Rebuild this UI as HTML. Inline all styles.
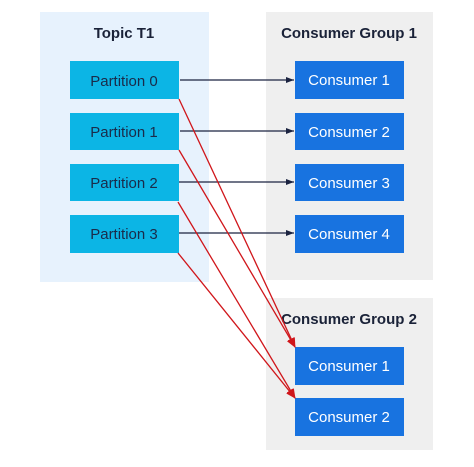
<!DOCTYPE html>
<html><head><style>
body{margin:0;width:474px;height:462px;background:#fff;font-family:"Liberation Sans",sans-serif;overflow:hidden}
</style></head><body>
<svg width="474" height="462" xmlns="http://www.w3.org/2000/svg" font-family="Liberation Sans, sans-serif">
<defs>
<marker id="ab" markerWidth="8" markerHeight="6" refX="8" refY="3" orient="auto" markerUnits="userSpaceOnUse"><path d="M0,0 L8,3 L0,6 Z" fill="#1b2340"/></marker>
<marker id="ar" markerWidth="10" markerHeight="8" refX="9" refY="4" orient="auto" markerUnits="userSpaceOnUse"><path d="M0,0 L10,4 L0,8 Z" fill="#d0161b"/></marker>
</defs>
<rect x="40" y="12" width="169" height="270" fill="#e7f2fd"/>
<rect x="266" y="12" width="167" height="268" fill="#efefef"/>
<rect x="266" y="298" width="167" height="152" fill="#efefef"/>
<text x="124" y="38" text-anchor="middle" font-size="15" font-weight="bold" fill="#1a2238">Topic T1</text>
<text x="349" y="38" text-anchor="middle" font-size="15" font-weight="bold" fill="#1a2238">Consumer Group 1</text>
<text x="349" y="324" text-anchor="middle" font-size="15" font-weight="bold" fill="#1a2238">Consumer Group 2</text>
<g fill="#0cb5e5">
<rect x="70" y="61" width="109" height="38"/><rect x="70" y="113" width="109" height="37"/>
<rect x="70" y="164" width="109" height="37"/><rect x="70" y="215" width="109" height="38"/>
</g>
<g fill="#1a2b4a" font-size="15" text-anchor="middle">
<text x="124" y="86">Partition 0</text><text x="124" y="137">Partition 1</text>
<text x="124" y="188">Partition 2</text><text x="124" y="239">Partition 3</text>
</g>
<g fill="#1873e0">
<rect x="295" y="61" width="109" height="38"/><rect x="295" y="113" width="109" height="37"/>
<rect x="295" y="164" width="109" height="37"/><rect x="295" y="215" width="109" height="38"/>
<rect x="295" y="347" width="109" height="38"/><rect x="295" y="398" width="109" height="38"/>
</g>
<g fill="#fff" font-size="15" text-anchor="middle">
<text x="349" y="85">Consumer 1</text><text x="349" y="137">Consumer 2</text>
<text x="349" y="188">Consumer 3</text><text x="349" y="239">Consumer 4</text>
<text x="349" y="371">Consumer 1</text><text x="349" y="422">Consumer 2</text>
</g>
<g stroke="#1b2340" stroke-width="1.3">
<line x1="180" y1="80" x2="294" y2="80" marker-end="url(#ab)"/>
<line x1="180" y1="131" x2="294" y2="131" marker-end="url(#ab)"/>
<line x1="179" y1="182" x2="294" y2="182" marker-end="url(#ab)"/>
<line x1="179" y1="233" x2="294" y2="233" marker-end="url(#ab)"/>
</g>
<g stroke="#d0161b" stroke-width="1.3">
<line x1="179" y1="99" x2="295" y2="347" marker-end="url(#ar)"/>
<line x1="179" y1="150" x2="295" y2="347" marker-end="url(#ar)"/>
<line x1="178" y1="202" x2="295" y2="398" marker-end="url(#ar)"/>
<line x1="178" y1="253" x2="295" y2="398" marker-end="url(#ar)"/>
</g>
</svg>
</body></html>
